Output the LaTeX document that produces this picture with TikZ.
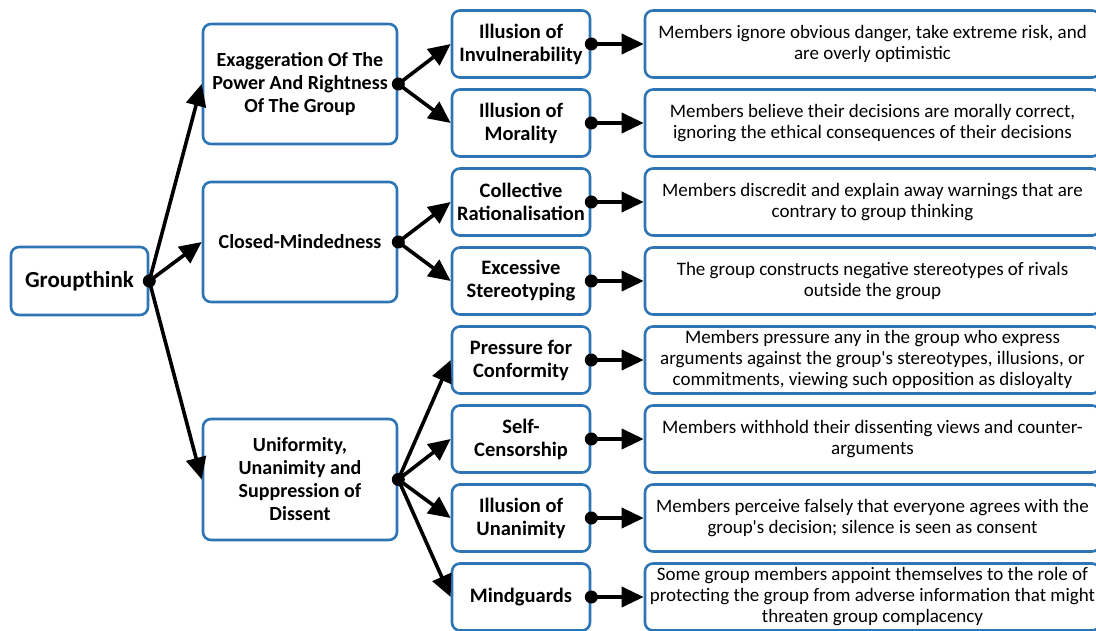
\documentclass[tikz,border=0pt]{standalone}
\usepackage{fontspec}
\setmainfont{Carlito}
\usetikzlibrary{arrows.meta}
\definecolor{boxblue}{RGB}{46,117,182}
\tikzset{
  box/.style={draw=boxblue, line width=2.6pt, rounded corners=8pt, fill=white, align=center, inner sep=1pt},
  lvA/.style={box, minimum width=137pt, minimum height=68pt, font=\fontsize{23}{27}\selectfont\bfseries},
  lvB/.style={box, minimum width=194pt, minimum height=120pt, font=\fontsize{20}{23}\selectfont\bfseries},
  lvC/.style={box, minimum width=138pt, minimum height=67pt, font=\fontsize{20.5}{23}\selectfont\bfseries},
  lvD/.style={box, minimum width=455pt, minimum height=67pt, font=\fontsize{19}{21}\selectfont},
  conn/.style={line width=3.6pt, -{Triangle[length=22pt,width=20pt]}},
  dot/.style={fill=black}
}
\begin{document}
\begin{tikzpicture}[x=1pt,y=-1pt]
\useasboundingbox (0,0) rectangle (1096,631);
\node[lvA] (g) at (79.5,281) {Groupthink};
\node[lvB] (A) at (300,84) {Exaggeration Of The\\Power And Rightness\\Of The Group};
\node[lvB] (B) at (300,242) {Closed-Mindedness};
\node[lvB, minimum height=121pt] (C) at (300,479.5) {Uniformity,\\Unanimity and\\Suppression of\\Dissent};
\node[lvC] (c1) at (521,44) {Illusion of\\Invulnerability};
\node[lvC] (c2) at (521,123) {Illusion of\\Morality};
\node[lvC] (c3) at (521,202) {Collective\\Rationalisation};
\node[lvC] (c4) at (521,281) {Excessive\\Stereotyping};
\node[lvC] (c5) at (521,360) {Pressure for\\Conformity};
\node[lvC] (c6) at (521,439) {Self-\\Censorship};
\node[lvC] (c7) at (521,518) {Illusion of\\Unanimity};
\node[lvC] (c8) at (521,597) {Mindguards};
\node[lvD] (d1) at (872.5,44) {Members ignore obvious danger, take extreme risk, and\\are overly optimistic};
\node[lvD] (d2) at (872.5,123) {Members believe their decisions are morally correct,\\ignoring the ethical consequences of their decisions};
\node[lvD] (d3) at (872.5,202) {Members discredit and explain away warnings that are\\contrary to group thinking};
\node[lvD] (d4) at (872.5,281) {The group constructs negative stereotypes of rivals\\outside the group};
\node[lvD] (d5) at (872.5,360) {Members pressure any in the group who express\\arguments against the group\textquotesingle s stereotypes, illusions, or\\commitments, viewing such opposition as disloyalty};
\node[lvD] (d6) at (872.5,439) {Members withhold their dissenting views and counter-\\arguments};
\node[lvD] (d7) at (872.5,518) {Members perceive falsely that everyone agrees with the\\group\textquotesingle s decision; silence is seen as consent};
\node[lvD] (d8) at (872.5,597) {Some group members appoint themselves to the role of\\protecting the group from adverse information that might\\threaten group complacency};
\foreach \s/\t in {g/A,g/B,g/C,A/c1,A/c2,B/c3,B/c4,C/c5,C/c6,C/c7,C/c8,c1/d1,c2/d2,c3/d3,c4/d4,c5/d5,c6/d6,c7/d7,c8/d8}
  \draw[conn] (\s.east) -- (\t.west);
\foreach \s in {g,A,B,C,c1,c2,c3,c4,c5,c6,c7,c8}
  \fill[dot] (\s.east) circle (6.5);
\end{tikzpicture}
\end{document}
